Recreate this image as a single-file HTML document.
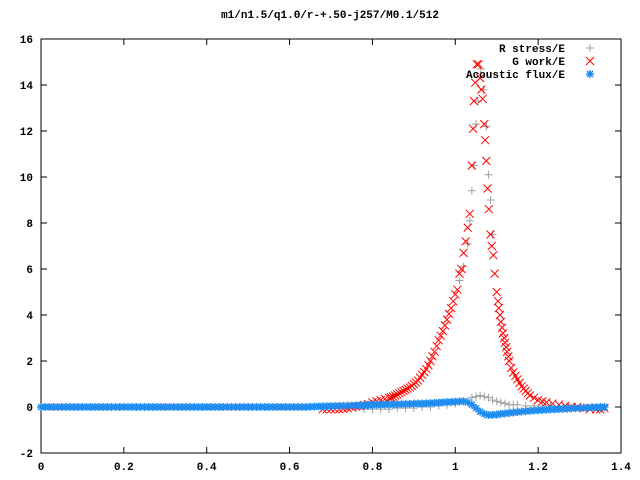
<!DOCTYPE html>
<html><head><meta charset="utf-8"><style>
html,body{margin:0;padding:0;background:#fff;width:640px;height:480px;overflow:hidden}
text{font-family:"Liberation Mono",monospace;font-weight:bold;font-size:11px;fill:#000}
</style></head><body>
<svg id="chart" width="640" height="480" xmlns="http://www.w3.org/2000/svg">
<text x="330" y="18" text-anchor="middle">m1/n1.5/q1.0/r-+.50-j257/M0.1/512</text>
<g id="axes"></g>
<g id="marks"></g>
<g id="legend"></g>
</svg>
<script>
const xTicks=[0,0.2,0.4,0.6,0.8,1,1.2,1.4];
const xTickLabels=["0","0.2","0.4","0.6","0.8","1","1.2","1.4"];
const yTicks=[-2,0,2,4,6,8,10,12,14,16];
const yTickLabels=["-2","0","2","4","6","8","10","12","14","16"];
const gX=[0.68,0.69,0.70,0.71,0.72,0.73,0.74,0.75,0.76,0.77,0.78,0.79,0.80,0.81,0.82,0.83,0.84,0.845,0.85,0.855,0.86,0.865,0.87,0.875,0.88,0.885,0.89,0.895,0.90,0.905,0.91,0.915,0.92,0.925,0.93,0.935,0.94,0.945,0.95,0.955,0.96,0.965,0.97,0.975,0.98,0.985,0.99,0.995,1.00,1.005,1.01,1.015,1.02,1.025,1.03,1.035,1.04,1.043,1.045,1.048,1.052,1.056,1.060,1.063,1.066,1.070,1.072,1.075,1.078,1.081,1.085,1.088,1.092,1.095,1.100,1.103,1.105,1.108,1.110,1.113,1.115,1.118,1.120,1.123,1.125,1.128,1.130,1.135,1.14,1.145,1.15,1.155,1.16,1.165,1.17,1.175,1.18,1.19,1.20,1.21,1.22,1.235,1.25,1.265,1.28,1.295,1.31,1.325,1.34,1.35,1.36];
const gY=[-0.1,-0.1,-0.1,-0.1,-0.1,-0.08,-0.05,0.0,0.02,0.05,0.08,0.12,0.2,0.25,0.3,0.35,0.4,0.42,0.45,0.5,0.55,0.6,0.65,0.7,0.75,0.8,0.85,0.92,1.0,1.07,1.15,1.27,1.4,1.52,1.65,1.82,2.0,2.2,2.4,2.65,2.9,3.1,3.3,3.55,3.8,4.05,4.3,4.6,4.9,5.1,5.8,6.0,6.7,7.2,7.8,8.4,10.5,12.1,13.3,14.1,14.9,14.9,14.3,13.8,13.4,12.3,11.6,10.7,9.5,8.6,7.5,7.0,6.6,5.8,5.0,4.6,4.3,4.0,3.7,3.45,3.2,3.0,2.8,2.6,2.4,2.2,2.0,1.7,1.5,1.35,1.2,1.05,0.9,0.8,0.7,0.6,0.5,0.4,0.3,0.25,0.2,0.15,0.1,0.05,0.0,0.0,-0.05,-0.1,-0.1,-0.1,-0.05];
const rX=[0.70,0.72,0.74,0.76,0.78,0.80,0.82,0.84,0.86,0.88,0.90,0.92,0.94,0.96,0.98,1.00,1.02,1.04,1.05,1.06,1.07,1.08,1.09,1.10,1.11,1.12,1.13,1.14,1.15,1.17,1.19,1.21,1.23,1.25,1.27,1.29,1.31,1.33,1.35,1.01,1.02,1.03,1.035,1.04,1.045,1.05,1.055,1.062,1.068,1.075,1.08,1.085,1.09];
const rY=[0.0,0.0,-0.05,-0.05,-0.1,-0.1,-0.1,-0.1,-0.05,-0.05,-0.05,0.0,0.0,0.05,0.1,0.15,0.25,0.4,0.45,0.5,0.45,0.4,0.3,0.25,0.2,0.15,0.1,0.1,0.1,0.05,0.05,0.05,0.05,0.0,0.0,0.0,0.0,0.0,0.0,5.5,6.1,7.1,8.1,9.4,10.5,12.3,13.3,14.7,13.8,12.2,10.1,9.0,7.5];
const aX=[0,0.01,0.02,0.03,0.04,0.05,0.06,0.07,0.08,0.09,0.10,0.11,0.12,0.13,0.14,0.15,0.16,0.17,0.18,0.19,0.20,0.21,0.22,0.23,0.24,0.25,0.26,0.27,0.28,0.29,0.30,0.31,0.32,0.33,0.34,0.35,0.36,0.37,0.38,0.39,0.40,0.41,0.42,0.43,0.44,0.45,0.46,0.47,0.48,0.49,0.50,0.51,0.52,0.53,0.54,0.55,0.56,0.57,0.58,0.59,0.60,0.61,0.62,0.63,0.64,0.65,0.66,0.67,0.68,0.69,0.70,0.71,0.72,0.73,0.74,0.75,0.76,0.77,0.78,0.79,0.80,0.81,0.82,0.83,0.84,0.85,0.86,0.87,0.88,0.89,0.90,0.91,0.92,0.93,0.94,0.95,0.96,0.97,0.98,0.99,1.00,1.01,1.02,1.03,1.04,1.05,1.06,1.07,1.08,1.09,1.10,1.11,1.12,1.13,1.14,1.15,1.16,1.17,1.18,1.19,1.20,1.21,1.22,1.23,1.24,1.25,1.26,1.27,1.28,1.29,1.30,1.31,1.32,1.33,1.34,1.35,1.36];
const aY=[0,0,0,0,0,0,0,0,0,0,0,0,0,0,0,0,0,0,0,0,0,0,0,0,0,0,0,0,0,0,0,0,0,0,0,0,0,0,0,0,0,0,0,0,0,0,0,0,0,0,0,0,0,0,0,0,0,0,0,0,0,0,0,0,0,0.01,0.02,0.02,0.03,0.03,0.04,0.04,0.05,0.05,0.06,0.06,0.07,0.07,0.08,0.08,0.09,0.09,0.1,0.1,0.11,0.11,0.12,0.12,0.13,0.13,0.14,0.15,0.15,0.16,0.17,0.18,0.19,0.2,0.21,0.22,0.23,0.24,0.25,0.2,0.1,-0.05,-0.2,-0.3,-0.35,-0.34,-0.33,-0.3,-0.28,-0.26,-0.24,-0.22,-0.2,-0.18,-0.17,-0.15,-0.14,-0.13,-0.12,-0.11,-0.1,-0.09,-0.08,-0.07,-0.06,-0.05,-0.05,-0.04,-0.03,-0.02,-0.01,0.0,0.0];
const NS="http://www.w3.org/2000/svg";
const X0=41,X1=621,Y0=453,Y1=39;
function sx(v){return X0+(v-0)/(1.4-0)*(X1-X0);}
function sy(v){return Y0-(v-(-2))/(16-(-2))*(Y0-Y1);}
function mk(tag,attrs,parent){const e=document.createElementNS(NS,tag);for(const k in attrs)e.setAttribute(k,attrs[k]);parent.appendChild(e);return e;}
const axes=document.getElementById('axes');
const frame=mk('rect',{x:X0,y:Y1,width:X1-X0,height:Y0-Y1,fill:'none',stroke:'#000','stroke-width':1},axes);


xTicks.forEach((t,i)=>{const x=sx(t);
 mk('line',{x1:x,x2:x,y1:Y0,y2:Y0-6,stroke:'#000'},axes);
 mk('line',{x1:x,x2:x,y1:Y1,y2:Y1+6,stroke:'#000'},axes);
 const l=mk('text',{x:x,y:470,'text-anchor':'middle'},axes);l.textContent=xTickLabels[i];
 
 });
yTicks.forEach((t,i)=>{const y=sy(t);
 mk('line',{x1:X0,x2:X0+6,y1:y,y2:y,stroke:'#000'},axes);
 mk('line',{x1:X1,x2:X1-6,y1:y,y2:y,stroke:'#000'},axes);
 const l=mk('text',{x:33,y:y+4,'text-anchor':'end'},axes);l.textContent=yTickLabels[i];
 
 });
const marks=document.getElementById('marks');
function plus(g,x,y,c){mk('path',{d:`M${x-4},${y}h8M${x},${y-4}v8`,stroke:c,'stroke-width':1,fill:'none'},g);}
function cross(g,x,y,c){mk('path',{d:`M${x-4},${y-4}l8,8M${x-4},${y+4}l8,-8`,stroke:c,'stroke-width':1,fill:'none'},g);}
function star(g,x,y,c){mk('path',{d:`M${x-4},${y}h8M${x},${y-4}v8M${x-3},${y-3}l6,6M${x-3},${y+3}l6,-6`,stroke:c,'stroke-width':1.5,fill:'none'},g);}
const gR=mk('g',{},marks);
rX.forEach((x,i)=>plus(gR,sx(x),sy(rY[i]),'#a0a0a0'));
const gG=mk('g',{},marks);
gX.forEach((x,i)=>cross(gG,sx(x),sy(gY[i]),'#ff0000'));
const gA=mk('g',{},marks);
aX.forEach((x,i)=>star(gA,sx(x),sy(aY[i]),'#1e8cf0'));
const leg=document.getElementById('legend');
const legNames=["R stress/E","G work/E","Acoustic flux/E"];
const legFns=[plus,cross,star];const legCols=['#a0a0a0','#ff0000','#1e8cf0'];
legNames.forEach((n,i)=>{const y=48+i*13;
 const t=mk('text',{x:565,y:y+4,'text-anchor':'end'},leg);t.textContent=n;
 
 
 legFns[i](leg,590,y,legCols[i]);});
</script>
</body></html>
